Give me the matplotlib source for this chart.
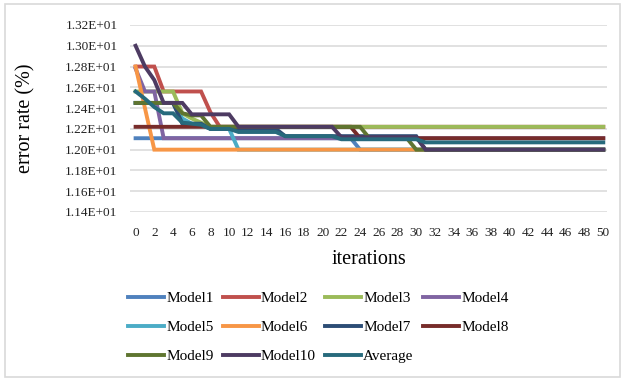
import matplotlib
matplotlib.use('Agg')
from matplotlib import pyplot as plt
from matplotlib.patches import Rectangle
from matplotlib.ticker import FuncFormatter

iterations = list(range(51))

# error rate (%) per iteration
model1 = [12.11] * 24 + [12.0] * 27
model2 = [12.8] * 3 + [12.56] * 5 + [12.36] + [12.22] * 42
model3 = [12.56] * 5 + [12.35, 12.3, 12.26] + [12.22] * 43
model4 = [12.78] + [12.56] * 2 + [12.11] * 48
model5 = [12.45] * 5 + [12.3, 12.25, 12.24, 12.2, 12.2, 12.2] + [12.0] * 40
model6 = [12.8, 12.4] + [12.0] * 49
model7 = [12.45] * 5 + [12.25] * 3 + [12.2] * 8 + [12.13] * 15 + [12.0] * 20
model8 = [12.22] * 24 + [12.11] * 27
model9 = [12.45] * 5 + [12.35, 12.33, 12.33] + [12.22] * 17 + [12.11] * 5 + [12.0] * 21
model10 = [13.0, 12.8, 12.67] + [12.45] * 3 + [12.34] * 5 + [12.22] * 11 + [12.12] * 9 + [12.0] * 20
average = ([12.56, 12.49, 12.41, 12.35, 12.35, 12.26, 12.25, 12.24, 12.2, 12.2, 12.2]
           + [12.17] * 5 + [12.13] * 6 + [12.1] * 9 + [12.07] * 20)

labels = ['Model1', 'Model2', 'Model3', 'Model4', 'Model5', 'Model6',
          'Model7', 'Model8', 'Model9', 'Model10', 'Average']
series = [model1, model2, model3, model4, model5, model6,
          model7, model8, model9, model10, average]
colors = ['#4F81BD', '#C0504D', '#9BBB59', '#8064A2', '#4BACC6', '#F79646',
          '#2C4D75', '#772C2A', '#5F7530', '#4D3B62', '#276A7C']

yticks = [11.4, 11.6, 11.8, 12.0, 12.2, 12.4, 12.6, 12.8, 13.0, 13.2]
xticks = list(range(0, 51, 2))

plt.rcParams['font.family'] = ['Liberation Serif', 'DejaVu Serif']

fig = plt.figure(figsize=(6.24, 3.81), dpi=100)
ax = fig.add_axes([0.2083, 0.4436, 0.7645, 0.4908])

lines = []
for ys, lab, col in zip(series, labels, colors):
    l, = ax.plot(iterations, ys, color=col, lw=2.8, label=lab, solid_joinstyle='miter')
    lines.append(l)

ax.set_xlim(-0.6, 50.4)
ax.set_ylim(11.4, 13.2)
ax.set_yticks(yticks)
ax.set_xticks(xticks)
ax.yaxis.set_major_formatter(FuncFormatter(lambda v, p: '%.2E' % v))
ax.grid(axis='y', color='#D9D9D9', lw=1.1)
ax.set_axisbelow(True)
for s in ax.spines.values():
    s.set_visible(False)
ax.tick_params(length=0, labelsize=9.5, colors='#222222')
ax.tick_params(axis='x', pad=11)
ax.tick_params(axis='y', pad=9)

ax.set_xlabel('iterations', fontsize=14.5, labelpad=8)
ax.set_ylabel('error rate (%)', fontsize=14.5, labelpad=21)

# legend reads row by row, matplotlib fills column by column
order = [0, 4, 8, 1, 5, 9, 2, 6, 10, 3, 7]
fig.legend([lines[i] for i in order], [labels[i] for i in order],
           loc='upper center', bbox_to_anchor=(0.51, 0.255), ncol=4,
           frameon=False, fontsize=11, handlelength=2.35, handletextpad=0.15,
           columnspacing=0.6, labelspacing=1.0, borderpad=0)

# chart border
fig.patches.append(Rectangle((5 / 624, 4 / 381), 615 / 624, 373 / 381,
                             transform=fig.transFigure, fill=False,
                             edgecolor='#D9D9D9', lw=1.2))

fig.savefig('out.png', dpi=100)
